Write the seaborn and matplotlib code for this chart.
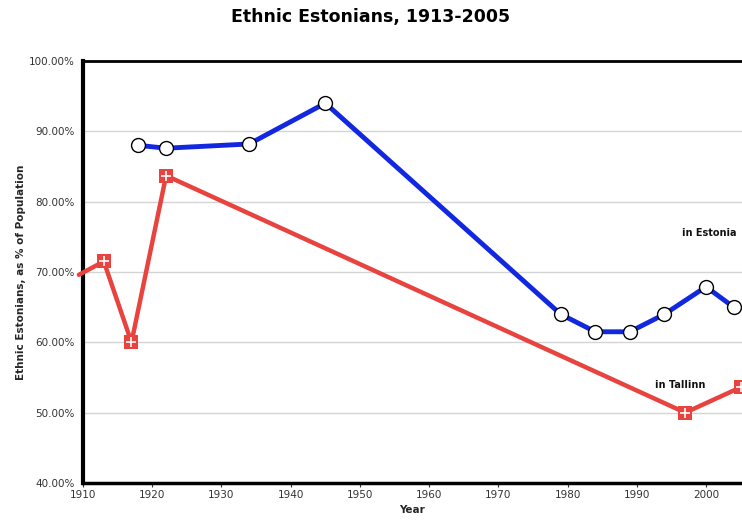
import matplotlib
matplotlib.use("Agg")
import matplotlib.pyplot as plt
import seaborn as sns
import pandas as pd
from matplotlib.ticker import FuncFormatter

estonia_years = [1918, 1922, 1934, 1945, 1979, 1984, 1989, 1994, 2000, 2004]
estonia_pct = [88.0, 87.6, 88.2, 94.0, 64.0, 61.5, 61.5, 64.0, 67.9, 65.0]

tallinn_years = [1909.4, 1913, 1917, 1922, 1997, 2005]
tallinn_pct = [69.6, 71.5, 60.0, 83.7, 50.0, 53.6]

title = "Ethnic Estonians, 1913-2005"
xlabel = "Year"
ylabel = "Ethnic Estonians, as % of Population"
label_estonia = "in Estonia"
label_tallinn = "in Tallinn"

sns.set_style("white")
plt.rcParams['font.family'] = ['DejaVu Sans']

est = pd.DataFrame({"year": estonia_years, "pct": estonia_pct})
tal = pd.DataFrame({"year": tallinn_years, "pct": tallinn_pct})

fig = plt.figure(figsize=(7.42, 5.23), dpi=100)
ax = fig.add_axes([0.1119, 0.0765, 0.8881, 0.8069])

ax.set_xlim(1910, 2005.2)
ax.set_ylim(40, 100)
ax.set_yticks(range(40, 101, 10))
ax.set_xticks(range(1910, 2001, 10))
ax.yaxis.set_major_formatter(FuncFormatter(lambda v, p: f"{v:.2f}%"))
ax.grid(axis='y', color='#d4d4d4', linewidth=1)
ax.set_axisbelow(True)

red = '#e8433e'
blue = '#1228e0'

sns.lineplot(data=tal, x="year", y="pct", ax=ax, color=red, linewidth=3.2,
             zorder=3, clip_on=False)
sns.scatterplot(data=tal.iloc[1:], x="year", y="pct", ax=ax, marker='s', s=90,
                color=red, edgecolor=red, linewidth=0, zorder=4)
sns.scatterplot(data=tal.iloc[1:], x="year", y="pct", ax=ax, marker='+', s=60,
                color='white', linewidth=1.2, zorder=5)

sns.lineplot(data=est, x="year", y="pct", ax=ax, color=blue, linewidth=3.5,
             zorder=6)
sns.scatterplot(data=est, x="year", y="pct", ax=ax, marker='o', s=100,
                color='white', edgecolor='black', linewidth=1.0, zorder=7)

ax.text(2000.5, 75.5, label_estonia, fontsize=7, fontweight='bold',
        ha='center', va='center', color='#111111')
ax.text(1996.3, 54.0, label_tallinn, fontsize=7, fontweight='bold',
        ha='center', va='center', color='#111111')

for s in ['left', 'bottom', 'top']:
    ax.spines[s].set_visible(True)
    ax.spines[s].set_color('black')
ax.spines['left'].set_linewidth(3.0)
ax.spines['bottom'].set_linewidth(2.5)
ax.spines['top'].set_linewidth(2.0)
ax.spines['right'].set_visible(False)

ax.tick_params(axis='both', labelsize=7.5, labelcolor='#333333', length=3,
               width=0.8, color='#333333', direction='out', pad=2)
ax.tick_params(axis='x', bottom=True)
ax.tick_params(axis='y', left=False, pad=3)

ax.set_xlabel(xlabel, fontsize=7.5, fontweight='bold', labelpad=4)
ax.set_ylabel(ylabel, fontsize=7.5, fontweight='bold', labelpad=2)

fig.suptitle(title, fontsize=12.5, fontweight='bold', x=0.5, y=0.985,
             color='black')

fig.savefig("out.png", dpi=100)
